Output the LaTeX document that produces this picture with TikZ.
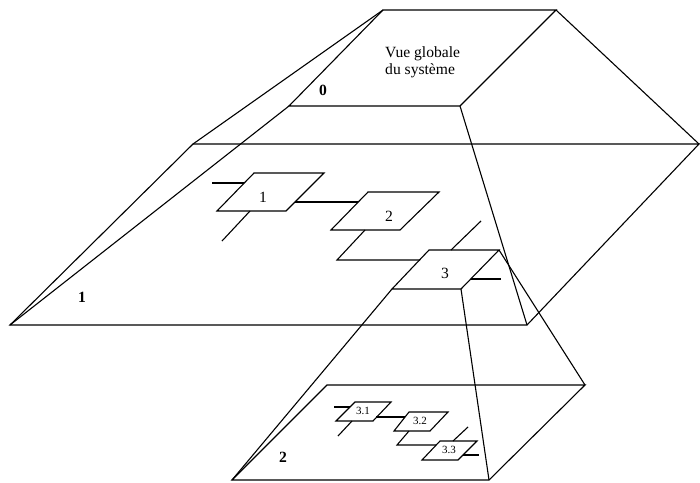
\documentclass[tikz,border=0pt]{standalone}
\usepackage{fontspec}
\setmainfont{Liberation Serif}
\usetikzlibrary{calc}
\begin{document}
\begin{tikzpicture}[x=1pt,y=-1pt,
  edge/.style={line width=1.1pt,line join=miter,line cap=butt},
  biglab/.style={font=\fontsize{15.6}{15.6}\selectfont,inner sep=0pt},
  levlab/.style={font=\fontsize{15.6}{15.6}\selectfont\bfseries,inner sep=0pt},
  smalllab/.style={font=\fontsize{11}{11}\selectfont,inner sep=0pt}]
\useasboundingbox (0,0) rectangle (700,482);
% level 0
\coordinate (A0) at (383,10); \coordinate (B0) at (556,10);
\coordinate (C0) at (460,106); \coordinate (D0) at (289,106);
% level 1
\coordinate (A1) at (193,144); \coordinate (B1) at (699,144);
\coordinate (C1) at (527,325); \coordinate (D1) at (10,325);
% level 2
\coordinate (A2) at (327,385); \coordinate (B2) at (585,385);
\coordinate (C2) at (489,480); \coordinate (D2) at (232,480);
% boxes level 1
\coordinate (p1a) at (254,173); \coordinate (p1b) at (324,173);
\coordinate (p1c) at (286,211); \coordinate (p1d) at (217,211);
\coordinate (p2a) at (368,192); \coordinate (p2b) at (439,192);
\coordinate (p2c) at (400,230); \coordinate (p2d) at (331,230);
\coordinate (p3a) at (429,250); \coordinate (p3b) at (499,250);
\coordinate (p3c) at (461,289); \coordinate (p3d) at (392,289);
% boxes level 2
\coordinate (q1a) at (355,402); \coordinate (q1b) at (391,402);
\coordinate (q1c) at (373,421); \coordinate (q1d) at (336,421);
\coordinate (q2a) at (409,412); \coordinate (q2b) at (448,412);
\coordinate (q2c) at (430,431); \coordinate (q2d) at (394,431);
\coordinate (q3a) at (440,441); \coordinate (q3b) at (477,441);
\coordinate (q3c) at (458,460); \coordinate (q3d) at (422,460);

% planes
\draw[edge] (A0) -- (B0) -- (C0) -- (D0) -- cycle;
\draw[edge] (A1) -- (B1) -- (C1) -- (D1) -- cycle;
\draw[edge] (A2) -- (B2) -- (C2) -- (D2) -- cycle;
% level 0 -> level 1
\draw[edge] (A0) -- (A1);
\draw[edge] (B0) -- (B1);
\draw[edge] (C0) -- (C1);
\draw[edge] (D0) -- (D1);
% box 3 -> level 2
\draw[edge] (p3b) -- (B2);
\draw[edge] (p3c) -- (C2);
\draw[edge] (p3d) -- (D2);

% boxes
\draw[edge] (p1a) -- (p1b) -- (p1c) -- (p1d) -- cycle;
\draw[edge] (p2a) -- (p2b) -- (p2c) -- (p2d) -- cycle;
\draw[edge] (p3a) -- (p3b) -- (p3c) -- (p3d) -- cycle;
\draw[edge] (q1a) -- (q1b) -- (q1c) -- (q1d) -- cycle;
\draw[edge] (q2a) -- (q2b) -- (q2c) -- (q2d) -- cycle;
\draw[edge] (q3a) -- (q3b) -- (q3c) -- (q3d) -- cycle;

% stubs and links, level 1
\coordinate (s1l) at (212,183); \coordinate (s1le) at (244,183);
\coordinate (s1bs) at (250,211); \coordinate (s1be) at (222,241);
\coordinate (l12s) at (295,202); \coordinate (l12e) at (358,202);
\coordinate (l23s) at (365,230); \coordinate (l23m) at (337,260); \coordinate (l23e) at (420,260);
\coordinate (s3ts) at (451,250); \coordinate (s3te) at (481,221);
\coordinate (s3rs) at (471,279); \coordinate (s3re) at (501,279);
\draw[edge] (s1l) -- (s1le);
\draw[edge] (s1bs) -- (s1be);
\draw[edge] (l12s) -- (l12e);
\draw[edge] (l23s) -- (l23m) -- (l23e);
\draw[edge] (s3ts) -- (s3te);
\draw[edge] (s3rs) -- (s3re);

% stubs and links, level 2
\coordinate (t1l) at (334,407); \coordinate (t1le) at (350,407);
\coordinate (t1bs) at (352,421); \coordinate (t1be) at (338,436);
\coordinate (m12s) at (376,417); \coordinate (m12e) at (405,417);
\coordinate (m23s) at (409,431); \coordinate (m23m) at (397,445); \coordinate (m23e) at (436,445);
\coordinate (t3ts) at (453,441); \coordinate (t3te) at (468,427);
\coordinate (t3rs) at (463,455); \coordinate (t3re) at (479,455);
\draw[edge] (t1l) -- (t1le);
\draw[edge] (t1bs) -- (t1be);
\draw[edge] (m12s) -- (m12e);
\draw[edge] (m23s) -- (m23m) -- (m23e);
\draw[edge] (t3ts) -- (t3te);
\draw[edge] (t3rs) -- (t3re);

% labels
\node[biglab,anchor=base west,align=left] (vue) at (385,57) {Vue globale};
\node[biglab,anchor=base west,align=left] (sys) at (385,74) {du système};
\node[levlab,anchor=base] (L0) at (323,95) {0};
\node[levlab,anchor=base] (L1) at (82,302) {1};
\node[levlab,anchor=base] (L2) at (283,462) {2};
\node[biglab,anchor=base] (n1) at (263,202) {1};
\node[biglab,anchor=base] (n2) at (389,221) {2};
\node[biglab,anchor=base] (n3) at (445,278) {3};
\node[smalllab,anchor=base] (n31) at (363,414) {3.1};
\node[smalllab,anchor=base] (n32) at (420,424) {3.2};
\node[smalllab,anchor=base] (n33) at (449,453) {3.3};
\end{tikzpicture}
\end{document}
